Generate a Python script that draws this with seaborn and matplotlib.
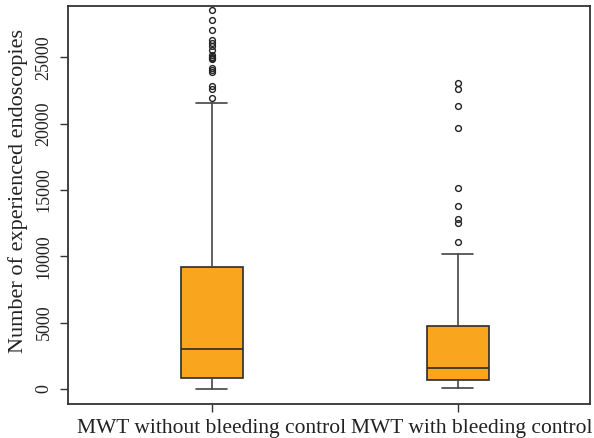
import numpy as np
import matplotlib
matplotlib.use("Agg")
import matplotlib.pyplot as plt
import matplotlib.transforms as mtransforms
import seaborn as sns

groups = ["MWT without bleeding control", "MWT with bleeding control"]

# five-number summaries
whislo = [0, 75]
q1 = [828, 678]
med = [3012, 1581]
q3 = [9187, 4744]
whishi = [21536, 10166]

outliers_without = [28590, 27790, 27030, 26330, 26080, 25830, 25580, 25150, 25050,
                    24950, 24850, 24220, 24020, 23890, 22820, 22640, 21970]
outliers_with = [23070, 22640, 21310, 19680, 15160, 13800, 12850, 12480, 11090]

box_color = "#F9A51D"

sns.set_style("ticks")
plt.rcParams["font.family"] = ["Liberation Serif", "DejaVu Serif"]

fig = plt.figure(figsize=(5.94, 4.38), dpi=100)
ax = fig.add_axes([68 / 594, 34 / 438, 522 / 594, 398 / 438])

stats = []
fliers = [outliers_without, outliers_with]
for i in range(len(groups)):
    stats.append({"whislo": whislo[i], "q1": q1[i], "med": med[i], "q3": q3[i],
                  "whishi": whishi[i], "fliers": fliers[i], "label": groups[i]})

ax.bxp(stats, positions=range(len(groups)), widths=0.252, patch_artist=True,
       boxprops=dict(facecolor=box_color, edgecolor="#2b2b2b", linewidth=1.2),
       medianprops=dict(color="#2b2b2b", linewidth=1.2),
       whiskerprops=dict(color="#444444", linewidth=1.2),
       capprops=dict(color="#444444", linewidth=1.2),
       capwidths=0.126,
       flierprops=dict(marker="o", markersize=4.2, markerfacecolor="none",
                       markeredgecolor="#222222", markeredgewidth=1.0))

ax.set_xlim(-0.585, 1.537)
ax.set_ylim(-1130, 28870)
ax.set_yticks([0, 5000, 10000, 15000, 20000, 25000])
ax.set_yticklabels(["0", "5000", "10000", "15000", "20000", "25000"],
                   rotation=90, va="center")
ax.set_xticks(range(len(groups)))
ax.set_xticklabels(groups)
ax.set_ylabel("Number of experienced endoscopies", fontsize=16, color="#222222")
ax.yaxis.set_label_coords(-0.077, 0.535)
ax.tick_params(axis="y", labelsize=13, length=6, width=1, colors="#333333",
               labelcolor="#222222", pad=5)
ax.tick_params(axis="x", labelsize=15.5, length=6, width=1, colors="#333333",
               labelcolor="#222222", pad=5)

# second category label sits a little right of its tick in the original
lab = ax.get_xticklabels()[1]
lab.set_transform(lab.get_transform() +
                  mtransforms.ScaledTranslation(0.14, 0, fig.dpi_scale_trans))

for s in ax.spines.values():
    s.set_visible(True)
    s.set_color("#333333")
    s.set_linewidth(1.3)

fig.savefig("out.png", dpi=100)
